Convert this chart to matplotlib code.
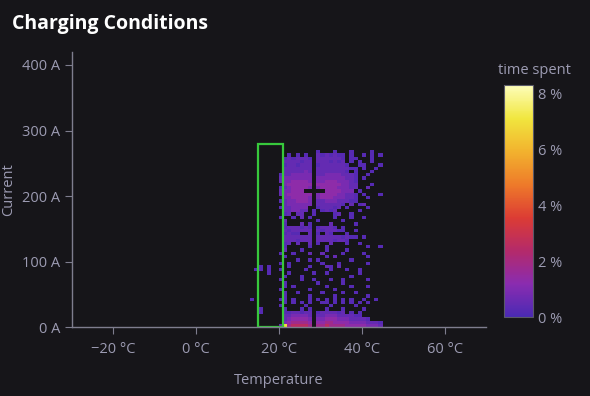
import numpy as np
import matplotlib.pyplot as plt
from matplotlib.colors import LinearSegmentedColormap
from matplotlib.patches import Rectangle

# ==============================
# DATA
# ==============================

# temperature bins (°C, left edge, 1 °C wide) and current bins (A, 5 A high)
temp_start = 13
temp_step = 1
current_step = 5

# time spent per cell, one char per cell; rows from 270 A (top) down to 0 A
# '.' = no time, digits = level (see level_values)
heat_rows = [
    "................1...1...1....1..",  # 265-270
    ".........1.1.1..2121211.1..1.1.1",  # 260-265
    "........1212221.2222221.11...1..",  # 255-260
    "........2222122.2221212.1.1..1..",  # 250-255
    "........1221222.12222221..11...1",  # 245-250
    "........2222222.2222222211.1..1.",  # 240-245
    "........2222232.22222221.1...1..",  # 235-240
    ".......12233333.2233332221..1...",  # 230-235
    ".......23333333.3333333221.1....",  # 225-230
    ".......23344443.3344433321......",  # 220-225
    "........3444444.4444443322...1..",  # 215-220
    ".......12344443.3444433322..2...",  # 210-215
    ".......233444.....4444333.1.....",  # 205-210
    ".......23444444.3444433221.1...1",  # 200-205
    "........3344443.3444333221..1...",  # 195-200
    ".......12334443.2233322211......",  # 190-195
    "........2333333.2222221.2.12....",  # 185-190
    ".......1223333..122212.1....1...",  # 180-185
    "........223322.1.1212.....1.....",  # 175-180
    "........12.22..1....12..1.......",  # 170-175
    ".......1..1.2.1.....1...1..1....",  # 165-170
    "........2.......1.....1.........",  # 160-165
    "........1...2.1....2.....1......",  # 155-160
    "........1222121.12221.1.........",  # 150-155
    "........2122222.2122211..1......",  # 145-150
    "........1211..2.1.21...1........",  # 140-145
    "........2222222.2222221211.1....",  # 135-140
    "........2221222.22221221........",  # 130-135
    "........12.2..2.1..2...1..1.....",  # 125-130
    "........1.....1...1.........1..1",  # 120-125
    "........2...1.....1....1........",  # 115-120
    ".......1..1...2..2....1....1....",  # 110-115
    "........1.........1.2.......1...",  # 105-110
    "...........1..1.1.......1.......",  # 100-105
    ".......1.1.......1...1......1...",  # 95-100
    "..1.1....1....1...21.2..........",  # 90-95
    ".11.1..1.....1.....1...1..1.....",  # 85-90
    "....1....1.....1..1.......1.....",  # 80-85
    "........1...1...........1.......",  # 75-80
    ".......1....1..1...1..1.....1...",  # 70-75
    "........1.......1.....1.........",  # 65-70
    "........1.1.......1.....1...1...",  # 60-65
    ".......1......1.....1...........",  # 55-60
    "........1..1.....1....1..1......",  # 50-55
    "........1.....1.....1.......1...",  # 45-50
    "1......11.1...1.1.1.1.1.1..1..1.",  # 40-45
    "........1.1.1.1..11.1.1.1.1.1...",  # 35-40
    ".......1.....1.....1.....1......",  # 30-35
    "..1.....1...1.1...1...1....1....",  # 25-30
    "..1.....1122122.1222212.1.1.....",  # 20-25
    "........2233332.22333222211.....",  # 15-20
    "........2344443.3344433322221...",  # 10-15
    "........3455554.4455444433332221",  # 5-10
    ".......29566665.5565555444443332",  # 0-5
]

# level -> time spent (%)
level_values = {"1": 0.25, "2": 0.5, "3": 0.9, "4": 1.3, "5": 1.8, "6": 2.5, "9": 7.0}

# highlighted window (green box)
box_temp = [15, 21]
box_current = [0, 280]

x_ticks = [-20, 0, 20, 40, 60]
y_ticks = [0, 100, 200, 300, 400]
cbar_ticks = [0, 2, 4, 6, 8]

# ==============================
# BUILD GRID
# ==============================

n_cols = max(len(r) for r in heat_rows)
grid = np.full((len(heat_rows), n_cols), np.nan)
for i, row in enumerate(heat_rows[::-1]):
    for j, ch in enumerate(row):
        if ch in level_values:
            grid[i, j] = level_values[ch]
grid = np.ma.masked_invalid(grid)

t_edges = temp_start + temp_step * np.arange(n_cols + 1)
c_edges = current_step * np.arange(len(heat_rows) + 1)

# ==============================
# STYLE
# ==============================

bg = "#161519"
txt = "#9c9bb2"
spine = "#7e7d8e"

plt.rcParams["font.family"] = ["Open Sans", "DejaVu Sans"]

cmap = LinearSegmentedColormap.from_list(
    "time_spent",
    ["#4a2ab4", "#8a2cb0", "#b42a6a", "#dc3c34", "#ee7a2a",
     "#f2b22e", "#f1e63e", "#fdfdba"],
)

fig = plt.figure(figsize=(5.9, 3.96), dpi=100, facecolor=bg)
ax = fig.add_axes([0.122, 0.174, 0.702, 0.695], facecolor=bg)

mesh = ax.pcolormesh(t_edges, c_edges, grid, cmap=cmap, vmin=0, vmax=8.3)

ax.add_patch(Rectangle((box_temp[0], box_current[0]),
                       box_temp[1] - box_temp[0],
                       box_current[1] - box_current[0],
                       fill=False, edgecolor="#37c83c", linewidth=1.6))

ax.set_xlim(-30, 70)
ax.set_ylim(0, 420)
ax.set_xticks(x_ticks)
ax.set_xticklabels([f"{t} °C".replace("-", "\u2212") for t in x_ticks])
ax.set_yticks(y_ticks)
ax.set_yticklabels([f"{c} A" for c in y_ticks])

for s in ["top", "right"]:
    ax.spines[s].set_visible(False)
for s in ["left", "bottom"]:
    ax.spines[s].set_color(spine)
    ax.spines[s].set_linewidth(1.0)
ax.tick_params(colors=spine, labelcolor=txt, labelsize=10.5, length=5, width=0.8)
ax.tick_params(axis="x", pad=6)

ax.set_xlabel("Temperature", color=txt, fontsize=10.5, labelpad=11)
ax.set_ylabel("Current", color=txt, fontsize=10.5, labelpad=4)

fig.text(0.02, 0.94, "Charging Conditions", color="white",
         fontsize=14, fontweight="bold", va="center")

# colorbar
cax = fig.add_axes([0.855, 0.199, 0.048, 0.586])
cb = fig.colorbar(mesh, cax=cax, ticks=cbar_ticks)
cb.ax.set_yticklabels([f"{v} %" for v in cbar_ticks])
cb.ax.tick_params(length=0, labelcolor=txt, labelsize=10.5, pad=4)
cb.outline.set_edgecolor("#5a5968")
fig.text(0.905, 0.823, "time spent", color=txt, fontsize=10.5,
         ha="center", va="center")

fig.savefig("out.png", dpi=100, facecolor=bg)
